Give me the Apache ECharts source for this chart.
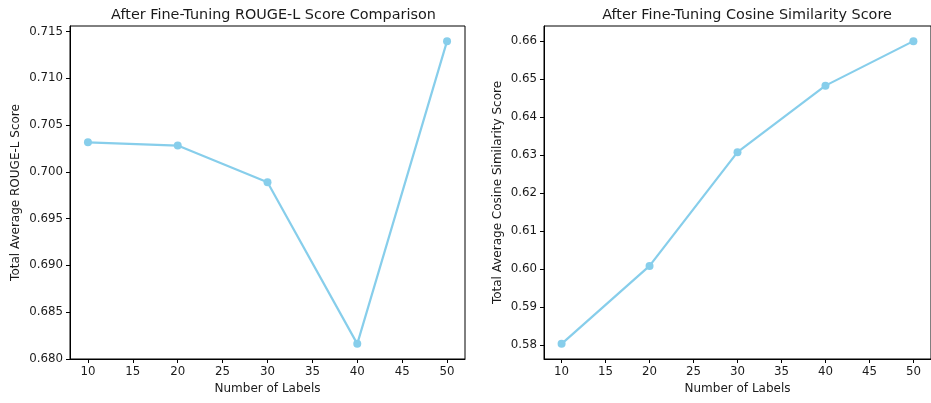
<!DOCTYPE html>
<html>
<head>
<meta charset="utf-8">
<script src="https://cdn.jsdelivr.net/npm/echarts@6/dist/echarts.min.js"></script>
<style>
html,body{margin:0;padding:0;background:#fff;}
#c{width:931px;height:403px;}
</style>
</head>
<body>
<div id="c"></div>
<script>
const numLabels = [10, 20, 30, 40, 50];
const rougeL = [0.70316, 0.70281, 0.69888, 0.68160, 0.71398];
const cosine = [0.5804, 0.6009, 0.6308, 0.6483, 0.6600];
const xTicks = [10, 15, 20, 25, 30, 35, 40, 45, 50];
const rougeTicks = [0.680, 0.685, 0.690, 0.695, 0.700, 0.705, 0.710, 0.715];
const cosineTicks = [0.58, 0.59, 0.60, 0.61, 0.62, 0.63, 0.64, 0.65, 0.66];
const titles = ['After Fine-Tuning ROUGE-L Score Comparison', 'After Fine-Tuning Cosine Similarity Score'];
const yNames = ['Total Average ROUGE-L Score', 'Total Average Cosine Similarity Score'];
const xName = 'Number of Labels';

function ext(arr) {
  const lo = Math.min(...arr), hi = Math.max(...arr), m = (hi - lo) * 0.05;
  return [lo - m, hi + m];
}
const xr = ext(numLabels), r1 = ext(rougeL), r2 = ext(cosine);
const FONT = 'DejaVu Sans';
const TXT = '#1a1a1a';
const TICK_FS = 11.8, NAME_FS = 12, TITLE_FS = 14.4;

function xAxis(gi) {
  return {
    type: 'value', gridIndex: gi, min: xr[0], max: xr[1],
    name: xName, nameLocation: 'middle', nameGap: 24,
    nameTextStyle: {fontFamily: FONT, fontSize: NAME_FS, color: TXT},
    axisLine: {show: true, onZero: false, lineStyle: {color: '#000', width: 1}},
    axisTick: {show: true, length: 4, lineStyle: {color: '#000'}, customValues: xTicks},
    axisLabel: {fontFamily: FONT, fontSize: TICK_FS, color: TXT, margin: 7, customValues: xTicks},
    splitLine: {show: false}
  };
}
function yAxis(gi, r, ticks, dec, name, gap) {
  return {
    type: 'value', gridIndex: gi, min: r[0], max: r[1],
    name: name, nameLocation: 'middle', nameGap: gap, nameRotate: 90,
    nameTextStyle: {fontFamily: FONT, fontSize: NAME_FS, color: TXT},
    axisLine: {show: true, onZero: false, lineStyle: {color: '#000', width: 1}},
    axisTick: {show: true, length: 4, lineStyle: {color: '#000'}, customValues: ticks},
    axisLabel: {fontFamily: FONT, fontSize: TICK_FS, color: TXT, margin: 7, customValues: ticks,
      formatter: v => v.toFixed(dec)},
    splitLine: {show: false}
  };
}
function series(gi, vals) {
  return {
    type: 'line', xAxisIndex: gi, yAxisIndex: gi,
    data: numLabels.map((x, i) => [x, vals[i]]),
    symbol: 'circle', symbolSize: 8,
    lineStyle: {color: '#87CEEB', width: 2.2},
    itemStyle: {color: '#87CEEB'},
    silent: true, animation: false
  };
}

const chart = echarts.init(document.getElementById('c'), null, {renderer: 'canvas'});
chart.setOption({
  animation: false,
  backgroundColor: '#fff',
  title: [
    {text: titles[0], left: 268.5, top: 3, textAlign: 'center',
      textStyle: {fontFamily: FONT, fontSize: TITLE_FS, fontWeight: 'normal', color: TXT}},
    {text: titles[1], left: 742, top: 3, textAlign: 'center',
      textStyle: {fontFamily: FONT, fontSize: TITLE_FS, fontWeight: 'normal', color: TXT}}
  ],
  grid: [
    {left: 70, top: 26, width: 395, height: 333, show: true, borderColor: '#000', borderWidth: 1, backgroundColor: 'transparent'},
    {left: 544, top: 26, width: 394, height: 333, show: true, borderColor: '#000', borderWidth: 1, backgroundColor: 'transparent'}
  ],
  xAxis: [xAxis(0), xAxis(1)],
  yAxis: [
    yAxis(0, r1, rougeTicks, 3, yNames[0], 48),
    yAxis(1, r2, cosineTicks, 2, yNames[1], 40)
  ],
  series: [series(0, rougeL), series(1, cosine)]
});
</script>
</body>
</html>
